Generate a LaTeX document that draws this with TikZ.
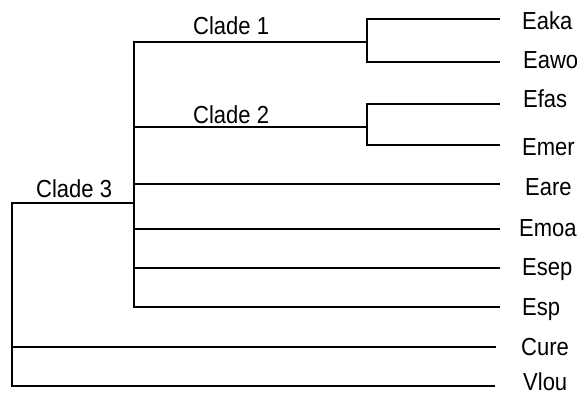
\documentclass[tikz,border=0pt]{standalone}
\usepackage{fontspec}
\setmainfont{Liberation Sans}
\newcommand{\tallt}[1]{\scalebox{1}[1.12]{#1}}
\begin{document}
\begin{tikzpicture}[x=1pt,y=-1pt,
  branch/.style={line width=2pt, line join=miter},
  leaf/.style={anchor=base west, inner sep=0pt, font=\fontsize{22}{24}\selectfont},
  cladelbl/.style={anchor=base west, inner sep=0pt, font=\fontsize{22}{24}\selectfont}]
\useasboundingbox (0,0) rectangle (580,396);
% junctions
\coordinate (rootj) at (12,203);
\coordinate (c3j) at (134,203);
\coordinate (c1) at (367,42);
\coordinate (c2) at (367,127);
% tips
\coordinate (teaka) at (500,19);
\coordinate (teawo) at (500,62);
\coordinate (tefas) at (500,104);
\coordinate (temer) at (500,145);
\coordinate (teare) at (500,184);
\coordinate (temoa) at (500,229);
\coordinate (tesep) at (500,268);
\coordinate (tesp) at (500,307);
\coordinate (tcure) at (496,347);
\coordinate (tvlou) at (495,386);
% labels
\node[leaf] (eaka) at (522,30) {\tallt{Eaka}};
\node[leaf] (eawo) at (523,68.5) {\tallt{Eawo}};
\node[leaf] (efas) at (523,107) {\tallt{Efas}};
\node[leaf] (emer) at (522,155) {\tallt{Emer}};
\node[leaf] (eare) at (525,195) {\tallt{Eare}};
\node[leaf] (emoa) at (519,236) {\tallt{Emoa}};
\node[leaf] (esep) at (522,275) {\tallt{Esep}};
\node[leaf] (esp) at (522,315) {\tallt{Esp}};
\node[leaf] (cure) at (521,355.5) {\tallt{Cure}};
\node[leaf] (vlou) at (523,390) {\tallt{Vlou}};
\node[cladelbl] (l1) at (193,35) {\tallt{Clade 1}};
\node[cladelbl] (l2) at (193,123) {\tallt{Clade 2}};
\node[cladelbl] (l3) at (36,197) {\tallt{Clade 3}};
% branches
\draw[branch] (tvlou) -| (rootj) -- (c3j);
\draw[branch] (rootj |- tcure) -- (tcure);
\draw[branch] (c1) -| (c3j) |- (tesp);
\draw[branch] (c3j |- c2) -- (c2);
\draw[branch] (c3j |- teare) -- (teare);
\draw[branch] (c3j |- temoa) -- (temoa);
\draw[branch] (c3j |- tesep) -- (tesep);
\draw[branch] (teaka) -| (c1) |- (teawo);
\draw[branch] (tefas) -| (c2) |- (temer);
\end{tikzpicture}
\end{document}
